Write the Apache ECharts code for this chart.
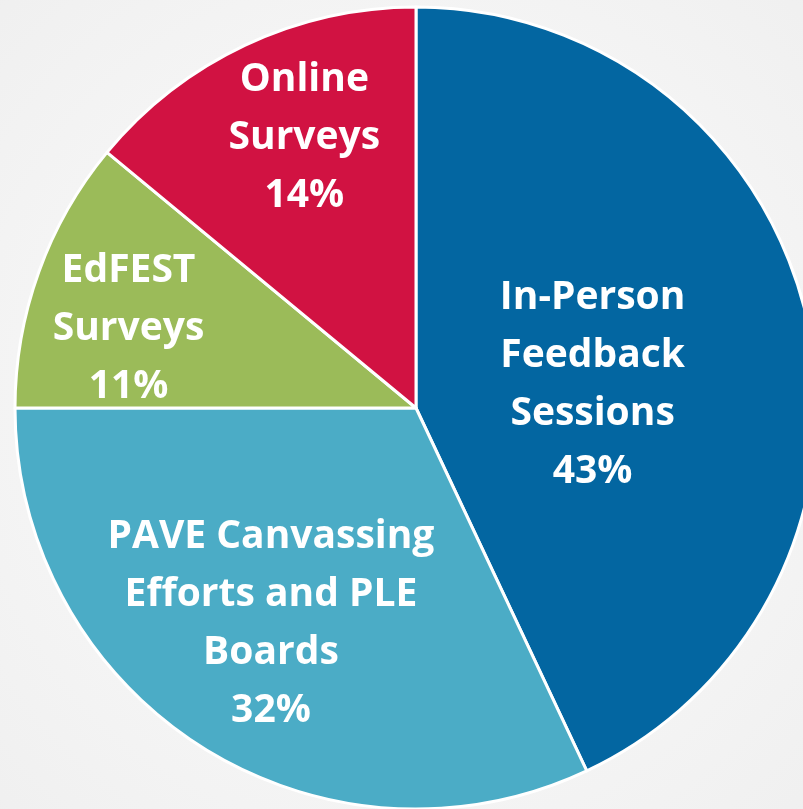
<!DOCTYPE html>
<html>
<head>
<meta charset="utf-8">
<script src="https://cdn.jsdelivr.net/npm/echarts@6/dist/echarts.min.js"></script>
<style>
  html, body { margin: 0; padding: 0; }
  #chart { width: 803px; height: 809px; }
</style>
</head>
<body>
<div id="chart"></div>
<script>
const categories = [
  "In-Person\nFeedback\nSessions",
  "PAVE Canvassing\nEfforts and PLE\nBoards",
  "EdFEST\nSurveys",
  "Online\nSurveys"
];
const shares = [43, 32, 11, 14];
const colors = ["#0366a1", "#4bacc6", "#9bbb59", "#d11242"];
// nudges from the default "inside" label spot
const labelOffsets = [[-22, 21], [-36, 44], [-96, -10], [-25, -86]];

let chart = echarts.init(document.getElementById("chart"));
chart.setOption({
  animation: false,
  backgroundColor: {
    type: "radial",
    x: 0.5, y: 0.5, r: 0.75,
    colorStops: [
      { offset: 0, color: "#fdfdfd" },
      { offset: 1, color: "#efefef" }
    ]
  },
  series: [
    {
      type: "pie",
      center: [416, 408],
      radius: 401,
      startAngle: 90,
      clockwise: true,
      avoidLabelOverlap: false,
      itemStyle: {
        borderColor: "#ffffff",
        borderWidth: 3
      },
      label: {
        show: true,
        position: "inside",
        color: "#ffffff",
        fontFamily: "Open Sans",
        fontWeight: "bold",
        fontSize: 39,
        lineHeight: 58,
        align: "center",
        formatter: p => p.name + "\n" + p.value + "%"
      },
      labelLine: { show: false },
      data: categories.map((c, i) => ({
        name: c,
        value: shares[i],
        itemStyle: { color: colors[i] },
        label: { offset: labelOffsets[i] }
      }))
    }
  ]
});
</script>
</body>
</html>
